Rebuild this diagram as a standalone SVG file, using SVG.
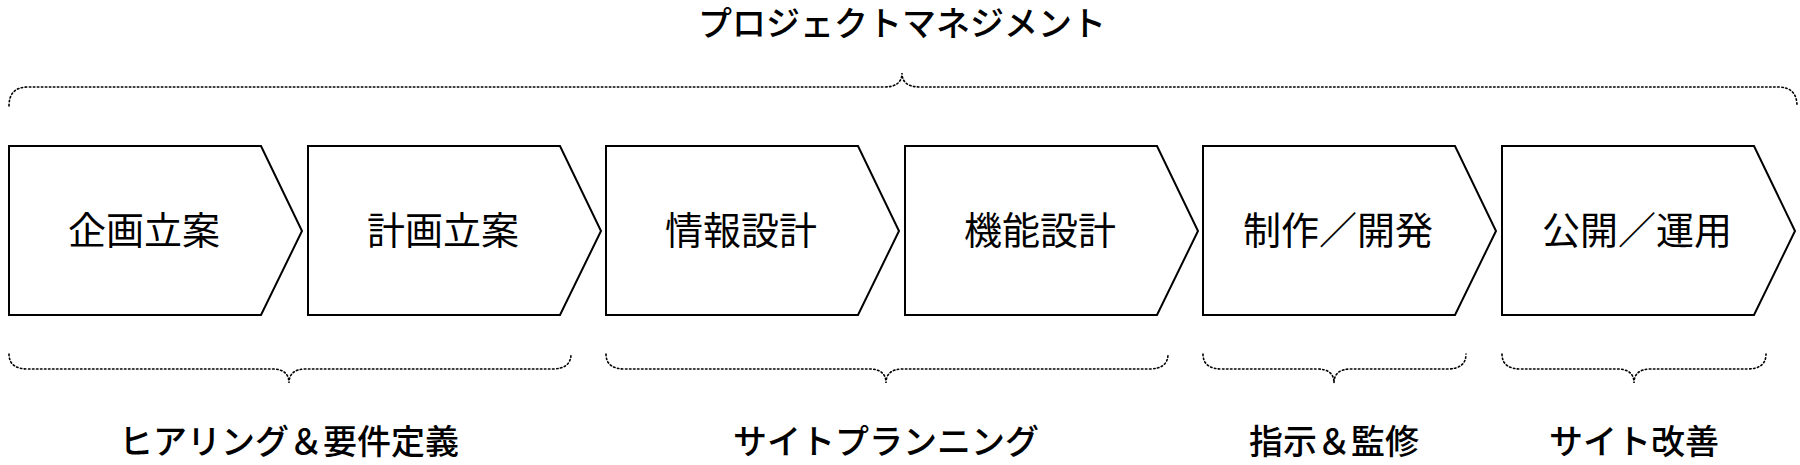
<svg xmlns="http://www.w3.org/2000/svg" width="1800" height="465" viewBox="0 0 1800 465">
<style>
.box{fill:#fff;stroke:#000;stroke-width:2;stroke-linejoin:miter}
.brace{fill:none;stroke:#000;stroke-width:1.6;stroke-dasharray:1.5 2.5;stroke-linecap:round}
text{font-family:"Noto Sans CJK JP","Noto Sans",sans-serif;fill:#000;text-anchor:middle}
.lbl{font-size:38px}
.cap{font-size:34px;font-weight:500}
</style>
<rect width="1800" height="465" fill="#fff"/>
<text class="cap" x="902" y="36">プロジェクトマネジメント</text>
<g id="connectors">
<path class="brace" d="M9,106 Q9,87 28,87 L884,87 Q902,87 902,73 Q902,87 920,87 L1778,87 Q1797,87 1797,106"/>
<path class="brace" d="M9,354 Q9,369 28,369 L272,369 Q289,369 289,383 Q289,369 306,369 L552,369 Q571,369 571,354"/>
<path class="brace" d="M606,354 Q606,369 625,369 L869,369 Q886,369 886,383 Q886,369 903,369 L1149,369 Q1168,369 1168,354"/>
<path class="brace" d="M1203,354 Q1203,369 1222,369 L1317,369 Q1334,369 1334,383 Q1334,369 1351,369 L1447,369 Q1466,369 1466,354"/>
<path class="brace" d="M1502,354 Q1502,369 1521,369 L1617,369 Q1634,369 1634,383 Q1634,369 1651,369 L1747,369 Q1766,369 1766,354"/>
</g>
<g id="n1"><path class="box" d="M9,146 H261 L302,231 L261,315 H9 Z"/><text class="lbl" x="144" y="244">企画立案</text></g>
<g id="n2"><path class="box" d="M308,146 H560 L601,231 L560,315 H308 Z"/><text class="lbl" x="443" y="244">計画立案</text></g>
<g id="n3"><path class="box" d="M606,146 H858 L899,231 L858,315 H606 Z"/><text class="lbl" x="741" y="244">情報設計</text></g>
<g id="n4"><path class="box" d="M905,146 H1157 L1198,231 L1157,315 H905 Z"/><text class="lbl" x="1040" y="244">機能設計</text></g>
<g id="n5"><path class="box" d="M1203,146 H1455 L1496,231 L1455,315 H1203 Z"/><text class="lbl" x="1338" y="244">制作／開発</text></g>
<g id="n6"><path class="box" d="M1502,146 H1754 L1795,231 L1754,315 H1502 Z"/><text class="lbl" x="1637" y="244">公開／運用</text></g>
<text class="cap" x="289" y="454">ヒアリング＆要件定義</text>
<text class="cap" x="886" y="454">サイトプランニング</text>
<text class="cap" x="1334" y="454">指示＆監修</text>
<text class="cap" x="1634" y="454">サイト改善</text>
</svg>
